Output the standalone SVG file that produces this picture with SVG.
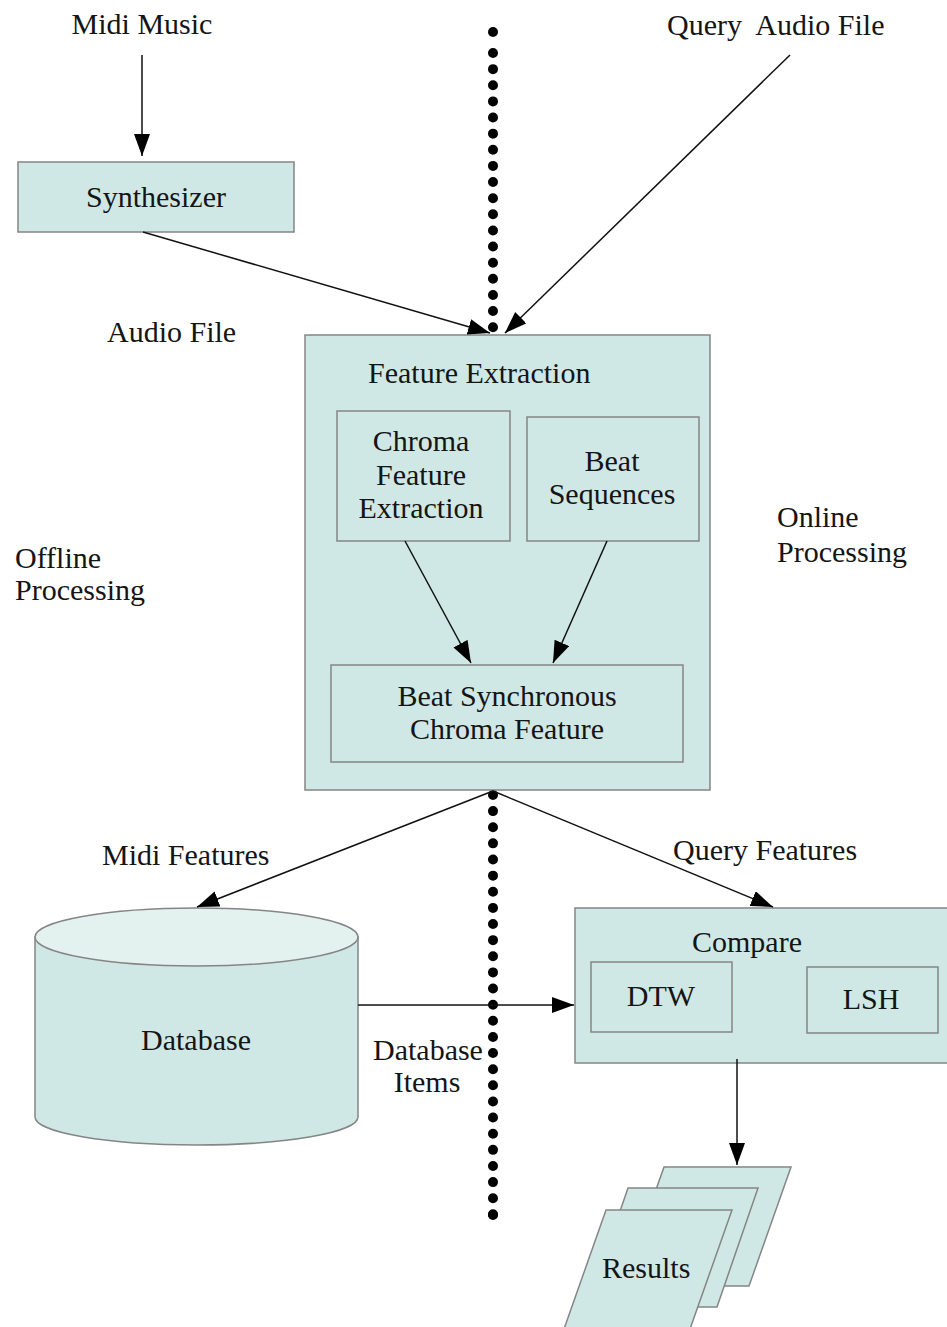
<svg xmlns="http://www.w3.org/2000/svg" width="947" height="1327" viewBox="0 0 947 1327">
  <style>
    .box { fill: #d0e8e5; stroke: #858585; stroke-width: 1.5; }
    .top { fill: #e3f1ef; stroke: #858585; stroke-width: 1.5; }
    .lbl { font-family: "Liberation Serif", "Times New Roman", serif; font-size: 30px; fill: #151515; }
    .mid { text-anchor: middle; }
    .edge { stroke: #111; stroke-width: 1.5; fill: none; marker-end: url(#arrow); }
    .divider { stroke: #000; stroke-width: 10; stroke-linecap: round; fill: none; }
  </style>
  <defs>
    <marker id="arrow" markerUnits="userSpaceOnUse" markerWidth="24" markerHeight="18" refX="22" refY="8" orient="auto">
      <path d="M0,0 L22,8 L0,16 z" fill="#000"/>
    </marker>
  </defs>
  <rect width="947" height="1327" fill="#fff"/>

  <!-- offline / online divider -->
  <g id="divider">
    <circle cx="493" cy="32" r="5" fill="#000"/>
    <line class="divider" x1="493" y1="53" x2="493" y2="1216" stroke-dasharray="0 16.13"/>
    <circle cx="493" cy="1215" r="5" fill="#000"/>
  </g>

  <!-- free-standing labels -->
  <g id="labels">
    <text class="lbl mid" x="142" y="34">Midi Music</text>
    <text class="lbl" x="667" y="35" xml:space="preserve">Query  Audio File</text>
    <text class="lbl" x="107" y="342">Audio File</text>
    <text class="lbl" x="15" y="568">Offline</text>
    <text class="lbl" x="15" y="600">Processing</text>
    <text class="lbl" x="777" y="527">Online</text>
    <text class="lbl" x="777" y="562">Processing</text>
    <text class="lbl" x="102" y="865">Midi Features</text>
    <text class="lbl" x="673" y="860">Query Features</text>
    <text class="lbl" x="373" y="1060">Database</text>
    <text class="lbl mid" x="427" y="1092">Items</text>
  </g>

  <g id="synthesizer">
    <rect class="box" x="18" y="162" width="276" height="70"/>
    <text class="lbl mid" x="156" y="207">Synthesizer</text>
  </g>

  <g id="feature-extraction">
    <rect class="box" x="305" y="335" width="405" height="455"/>
    <text class="lbl" x="368" y="383">Feature Extraction</text>
  </g>

  <g id="chroma-feature-extraction">
    <rect class="box" x="337" y="411" width="173" height="130"/>
    <text class="lbl mid" x="421" y="451">Chroma</text>
    <text class="lbl mid" x="421" y="485">Feature</text>
    <text class="lbl mid" x="421" y="518">Extraction</text>
  </g>

  <g id="beat-sequences">
    <rect class="box" x="527" y="417" width="172" height="124"/>
    <text class="lbl mid" x="612" y="471">Beat</text>
    <text class="lbl mid" x="612" y="504">Sequences</text>
  </g>

  <g id="beat-sync-chroma">
    <rect class="box" x="331" y="665" width="352" height="97"/>
    <text class="lbl mid" x="507" y="706">Beat Synchronous</text>
    <text class="lbl mid" x="507" y="739">Chroma Feature</text>
  </g>

  <g id="database">
    <path class="box" d="M35,937 L35,1117 A161.5,28 0 0 0 358,1117 L358,937 z"/>
    <ellipse class="top" cx="196.5" cy="937" rx="161.5" ry="29"/>
    <text class="lbl mid" x="196" y="1050">Database</text>
  </g>

  <g id="compare">
    <rect class="box" x="575" y="908" width="380" height="155"/>
    <text class="lbl" x="692" y="952">Compare</text>
  </g>

  <g id="dtw">
    <rect class="box" x="591" y="962" width="141" height="70"/>
    <text class="lbl mid" x="661" y="1006">DTW</text>
  </g>

  <g id="lsh">
    <rect class="box" x="807" y="967" width="131" height="66"/>
    <text class="lbl mid" x="871" y="1009">LSH</text>
  </g>

  <g id="results">
    <polygon class="box" points="664,1167 791,1167 749,1286 622,1286"/>
    <polygon class="box" points="628,1188 758,1188 717,1307 587,1307"/>
    <polygon class="box" points="606,1210 732,1210 690,1329 564,1329"/>
    <text class="lbl" x="602" y="1278">Results</text>
  </g>

  <g id="connectors">
    <line class="edge" x1="142" y1="55" x2="142" y2="156"/>
    <line class="edge" x1="143" y1="232" x2="490" y2="333"/>
    <line class="edge" x1="790" y1="55" x2="505" y2="333"/>
    <line class="edge" x1="405" y1="541" x2="471" y2="663"/>
    <line class="edge" x1="607" y1="541" x2="553" y2="663"/>
    <line class="edge" x1="493" y1="791" x2="197" y2="907"/>
    <line class="edge" x1="493" y1="791" x2="773" y2="907"/>
    <line class="edge" x1="358" y1="1005" x2="574" y2="1005"/>
    <line class="edge" x1="737" y1="1059" x2="737" y2="1165"/>
  </g>
</svg>
